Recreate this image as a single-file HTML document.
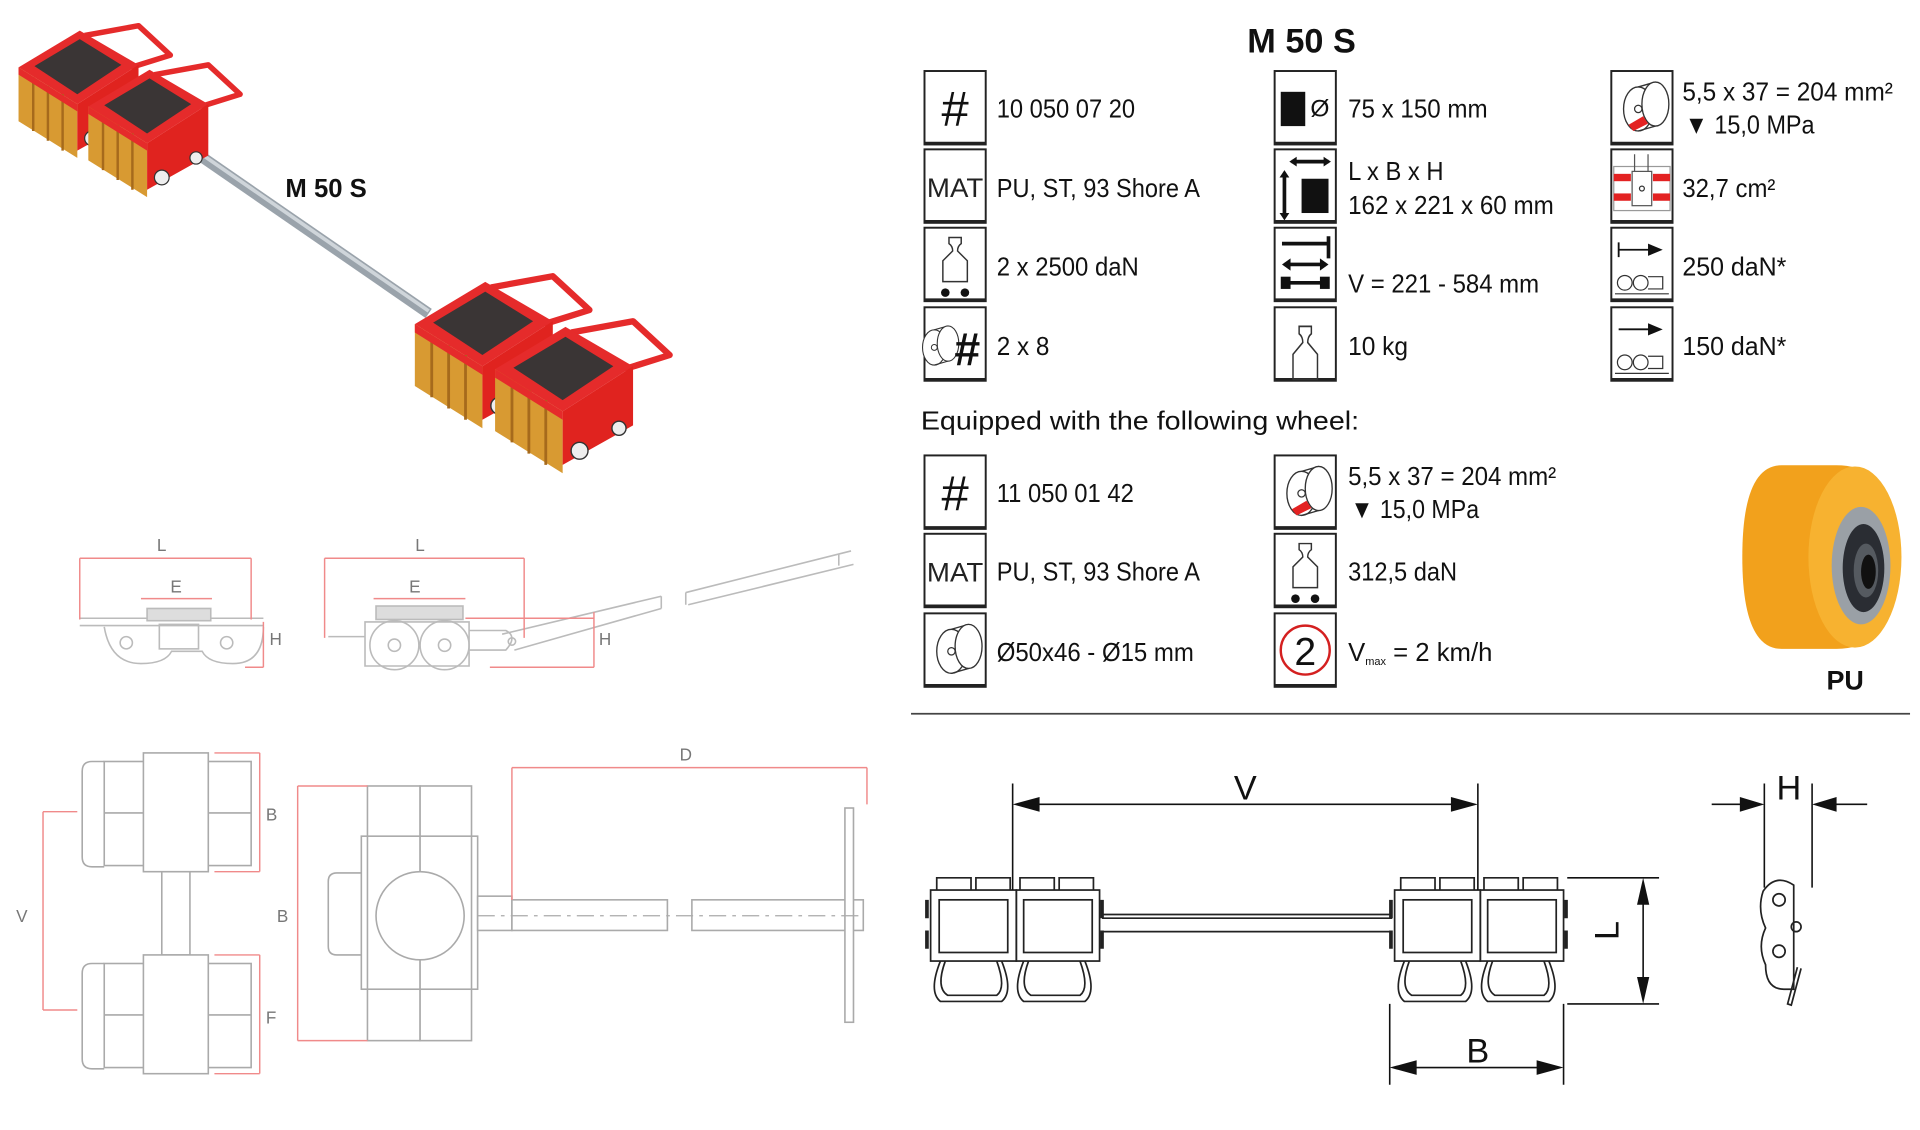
<!DOCTYPE html>
<html><head><meta charset="utf-8"><style>
html,body{margin:0;padding:0;background:#fff;}
svg{display:block;}
.t{font-family:"Liberation Sans Narrow","Liberation Sans",sans-serif;font-size:21px;fill:#111;}
.lbl{font-family:"Liberation Sans",sans-serif;font-size:14px;fill:#777;}
</style></head><body>
<svg width="1920" height="1130" viewBox="0 0 1568 923" xmlns="http://www.w3.org/2000/svg">
<defs>
<g id="box"><rect x="0" y="0" width="50" height="60" fill="#fff" stroke="#222" stroke-width="1.6"/><line x1="0" y1="59" x2="50" y2="59" stroke="#222" stroke-width="2.5"/></g>
<g id="weight"><path d="M20 8 h10 v5 q-3 2 -3 6 l8 8 v17 h-20 v-17 l8 -8 q0 -4 -3 -6z" fill="none" stroke="#333" stroke-width="1.2"/></g>
<g id="wheelic"><ellipse cx="20" cy="33" rx="12" ry="18" fill="#fff" stroke="#333" stroke-width="1.1"/><path d="M20 15 L34 11 M20 51 L34 47" stroke="#333" stroke-width="1.1"/><ellipse cx="34" cy="29" rx="11" ry="18" fill="#fff" stroke="#333" stroke-width="1.1"/><circle cx="20" cy="33" r="3" fill="none" stroke="#333"/></g>
<g id="block"><path d="M72 32 L116 24 L142 48 L110 58" fill="none" stroke="#e52b2b" stroke-width="4.5" stroke-linejoin="round"/><polygon points="18,58 68,28 116,56 66,88" fill="#e52b2b"/><polygon points="31,57 68,35 102,56 66,80" fill="#3a3535"/><polygon points="18,58 66,88 66,132 18,102" fill="#d89a32"/><path d="M30 66 v44 M42 73 v45 M54 80 v46" stroke="#a66a1c" stroke-width="2"/><polygon points="66,88 116,56 116,98 66,126" fill="#e0231f"/><polygon points="18,58 66,88 66,94 18,64" fill="#e52b2b"/><circle cx="78" cy="116" r="6" fill="#eee" stroke="#333"/><circle cx="106" cy="100" r="5" fill="#eee" stroke="#333"/></g>
<g id="pair"><use href="#block"/><use href="#block" transform="translate(57,32)"/></g>
</defs>

<!-- 3D render -->
<line x1="150" y1="118" x2="350" y2="256" stroke="#9aa3ab" stroke-width="9"/>
<line x1="150" y1="116" x2="350" y2="254" stroke="#cfd5da" stroke-width="3"/>
<use href="#pair" transform="translate(-3,-3)"/>
<use href="#pair" transform="translate(318,198) scale(1.15)"/>
<text x="233" y="161" font-family="Liberation Sans,sans-serif" font-size="21" font-weight="bold" fill="#111">M 50 S</text>

<!-- side views -->
<g fill="none" stroke="#bbb" stroke-width="1.3">
<path d="M65 505 h150 M65 511 h150"/><rect x="120" y="497" width="52" height="10" fill="#ddd"/>
<path d="M85 512 q5 30 30 30 q20 0 25 -10 h25 q5 10 25 10 q25 0 25 -30"/><rect x="130" y="510" width="32" height="20"/>
<circle cx="103" cy="525" r="5"/><circle cx="185" cy="525" r="5"/>
<rect x="307" y="495" width="71" height="11" fill="#ddd"/><circle cx="322" cy="527" r="20"/><circle cx="363" cy="527" r="20"/><circle cx="322" cy="527" r="5"/><circle cx="363" cy="527" r="5"/>
<path d="M268 520 h30 M298 508 h85 v36 h-85z M383 515 h30 q10 5 0 16 h-30"/><circle cx="418" cy="524" r="3"/>
<path d="M410 518 L540 487 M420 531 L540 497 M560 484 L695 450 M562 494 L697 461 M540 487 v10 M560 484 v10 M685 452 v10"/>
</g>
<g fill="none" stroke="#f08a8a" stroke-width="1.2">
<path d="M65 456 h140 M65 456 v50 M205 456 v50 M115 489 h58 M215 508 v37 M200 545 h15 M265 456 h163 M265 456 v65 M428 456 v65 M305 489 h75 M485 500 v45 M380 505 h105 M400 545 h85"/>
</g>
<text x="128" y="450" class="lbl">L</text><text x="139" y="484" class="lbl">E</text><text x="220" y="527" class="lbl">H</text>
<text x="339" y="450" class="lbl">L</text><text x="334" y="484" class="lbl">E</text><text x="489" y="527" class="lbl">H</text>

<!-- top views -->
<g fill="#fff" stroke="#aaa" stroke-width="1.3">
<path d="M85 622 h-10 q-8 0 -8 8 v70 q0 8 8 8 h10 M85 787 h-10 q-8 0 -8 8 v70 q0 8 8 8 h10" fill="none"/>
<rect x="85" y="622" width="120" height="85"/><rect x="85" y="787" width="120" height="85"/>
<line x1="85" y1="664" x2="205" y2="664"/><line x1="85" y1="829" x2="205" y2="829"/>
<rect x="132" y="712" width="23" height="68"/>
<rect x="117" y="615" width="53" height="97"/><rect x="117" y="780" width="53" height="97"/>
<rect x="300" y="642" width="43" height="208"/><rect x="343" y="642" width="42" height="208"/>
<path d="M295 713 h-20 q-7 0 -7 7 v53 q0 7 7 7 h20" fill="none"/>
<rect x="295" y="683" width="95" height="125" fill="none"/>
<circle cx="343" cy="748" r="36"/>
<rect x="390" y="732" width="28" height="28"/><rect x="418" y="735" width="127" height="25"/><rect x="565" y="735" width="140" height="25"/>
<rect x="690" y="660" width="7" height="175"/>
</g>
<line x1="390" y1="748" x2="705" y2="748" stroke="#aaa" stroke-dasharray="14 5 3 5"/>
<g fill="none" stroke="#f08a8a" stroke-width="1.2">
<path d="M212 615 v97 M175 615 h37 M175 712 h37 M212 780 v97 M175 780 h37 M175 877 h37 M35 663 v162 M35 663 h28 M35 825 h28 M243 642 v208 M243 642 h57 M243 850 h57 M418 627 h290 M418 627 v108 M708 627 v30"/>
</g>
<text x="217" y="670" class="lbl">B</text><text x="217" y="836" class="lbl">F</text><text x="13" y="753" class="lbl">V</text><text x="226" y="753" class="lbl">B</text><text x="555" y="621" class="lbl">D</text>

<!-- title + spec table -->
<text x="1063" y="43" text-anchor="middle" font-family="Liberation Sans,sans-serif" font-size="28" font-weight="bold" fill="#111">M 50 S</text>

<!-- col1 -->
<g transform="translate(755,58)"><use href="#box"/><text x="25" y="45" text-anchor="middle" font-family="Liberation Sans" font-size="40" fill="#111">#</text></g>
<g transform="translate(755,122)"><use href="#box"/><text x="25" y="39" text-anchor="middle" font-family="Liberation Sans Narrow,Liberation Sans" font-size="22" textLength="46" lengthAdjust="spacingAndGlyphs" fill="#222">MAT</text></g>
<g transform="translate(755,186)"><use href="#box"/><use href="#weight"/><circle cx="17" cy="53" r="3.5" fill="#111"/><circle cx="33" cy="53" r="3.5" fill="#111"/></g>
<g transform="translate(755,251)"><use href="#box"/><use href="#wheelic" transform="translate(-8,0) scale(0.8) translate(0,8)"/><text x="35" y="47" text-anchor="middle" font-family="Liberation Sans" font-size="38" font-weight="bold" fill="#111">#</text></g>
<text x="814" y="96" class="t" textLength="113" lengthAdjust="spacingAndGlyphs">10 050 07 20</text>
<text x="814" y="161" class="t" textLength="166" lengthAdjust="spacingAndGlyphs">PU, ST, 93 Shore A</text>
<text x="814" y="225" class="t" textLength="116" lengthAdjust="spacingAndGlyphs">2 x 2500 daN</text>
<text x="814" y="290" class="t" textLength="43" lengthAdjust="spacingAndGlyphs">2 x 8</text>

<!-- col2 -->
<g transform="translate(1041,58)"><use href="#box"/><rect x="5" y="17" width="20" height="28" fill="#111"/><text x="37" y="37" text-anchor="middle" font-family="Liberation Sans" font-size="20" fill="#111">Ø</text></g>
<g transform="translate(1041,122)"><use href="#box"/><rect x="22" y="24" width="22" height="28" fill="#111"/><path d="M14 10 h30 M8 20 v35" stroke="#111" stroke-width="3"/><path d="M12 10 l6 -4 v8z M46 10 l-6 -4 v8z M8 17 l-4 6 h8z M8 58 l-4 -6 h8z" fill="#111"/></g>
<g transform="translate(1041,186)"><use href="#box"/><path d="M6 13 h38 M44 7 v18 M8 30 h34" stroke="#111" stroke-width="3"/><path d="M6 30 l7 -5 v10z M44 30 l-7 -5 v10z" fill="#111"/><rect x="5" y="40" width="8" height="10" fill="#111"/><rect x="37" y="40" width="8" height="10" fill="#111"/><path d="M12 45 h26" stroke="#111" stroke-width="3"/></g>
<g transform="translate(1041,251)"><use href="#box"/><use href="#weight" transform="translate(0,6) scale(1,1.2)"/></g>
<text x="1101" y="96" class="t" textLength="114" lengthAdjust="spacingAndGlyphs">75 x 150 mm</text>
<text x="1101" y="147" class="t" textLength="78" lengthAdjust="spacingAndGlyphs">L x B x H</text>
<text x="1101" y="175" class="t" textLength="168" lengthAdjust="spacingAndGlyphs">162 x 221 x 60 mm</text>
<text x="1101" y="239" class="t" textLength="156" lengthAdjust="spacingAndGlyphs">V = 221 - 584 mm</text>
<text x="1101" y="290" class="t" textLength="49" lengthAdjust="spacingAndGlyphs">10 kg</text>

<!-- col3 -->
<g transform="translate(1316,58)"><use href="#box"/><use href="#wheelic" transform="translate(2,-2)"/><path d="M14 44 l12 -7 l4 6 l-12 6z" fill="#e32222"/></g>
<g transform="translate(1316,122)"><use href="#box"/><rect x="2" y="14" width="46" height="36" fill="#fff" stroke="#999"/><rect x="2" y="20" width="14" height="6" fill="#e32222"/><rect x="34" y="20" width="14" height="6" fill="#e32222"/><rect x="2" y="36" width="14" height="6" fill="#e32222"/><rect x="34" y="36" width="14" height="6" fill="#e32222"/><rect x="17" y="18" width="16" height="28" fill="#fff" stroke="#555"/><path d="M19 4 v14 M30 4 v14" stroke="#555"/><circle cx="25" cy="32" r="2" fill="none" stroke="#333"/></g>
<g transform="translate(1316,186)"><use href="#box"/><path d="M6 12 v12 M6 18 h26" stroke="#111" stroke-width="1.5"/><path d="M42 18 l-12 -5 v10z" fill="#111"/><circle cx="11" cy="45" r="6" fill="none" stroke="#333"/><circle cx="24" cy="45" r="6" fill="none" stroke="#333"/><path d="M30 40 h12 v10 h-12 M3 54 h44" fill="none" stroke="#333"/></g>
<g transform="translate(1316,251)"><use href="#box"/><path d="M6 18 h26" stroke="#111" stroke-width="1.5"/><path d="M42 18 l-12 -5 v10z" fill="#111"/><circle cx="11" cy="45" r="6" fill="none" stroke="#333"/><circle cx="24" cy="45" r="6" fill="none" stroke="#333"/><path d="M30 40 h12 v10 h-12 M3 54 h44" fill="none" stroke="#333"/></g>
<text x="1374" y="82" class="t" textLength="172" lengthAdjust="spacingAndGlyphs">5,5 x 37 = 204 mm²</text>
<text x="1376" y="109" class="t" textLength="106" lengthAdjust="spacingAndGlyphs">▼ 15,0 MPa</text>
<text x="1374" y="161" class="t" textLength="76" lengthAdjust="spacingAndGlyphs">32,7 cm²</text>
<text x="1374" y="225" class="t" textLength="85" lengthAdjust="spacingAndGlyphs">250 daN*</text>
<text x="1374" y="290" class="t" textLength="85" lengthAdjust="spacingAndGlyphs">150 daN*</text>

<text x="752" y="351" class="t" font-size="22" textLength="358" lengthAdjust="spacingAndGlyphs">Equipped with the following wheel:</text>

<!-- wheel rows -->
<g transform="translate(755,372)"><use href="#box"/><text x="25" y="45" text-anchor="middle" font-family="Liberation Sans" font-size="40" fill="#111">#</text></g>
<g transform="translate(755,436)"><use href="#box"/><text x="25" y="39" text-anchor="middle" font-family="Liberation Sans Narrow,Liberation Sans" font-size="22" textLength="46" lengthAdjust="spacingAndGlyphs" fill="#222">MAT</text></g>
<g transform="translate(755,501)"><use href="#box"/><use href="#wheelic" transform="translate(2,-2)"/></g>
<g transform="translate(1041,372)"><use href="#box"/><use href="#wheelic" transform="translate(2,-2)"/><path d="M14 44 l12 -7 l4 6 l-12 6z" fill="#e32222"/></g>
<g transform="translate(1041,436)"><use href="#box"/><use href="#weight"/><circle cx="17" cy="53" r="3.5" fill="#111"/><circle cx="33" cy="53" r="3.5" fill="#111"/></g>
<g transform="translate(1041,501)"><use href="#box"/><circle cx="25" cy="30" r="20" fill="none" stroke="#d42020" stroke-width="2"/><text x="25" y="42" text-anchor="middle" font-family="Liberation Sans" font-size="32" fill="#111">2</text></g>
<text x="814" y="410" class="t" textLength="112" lengthAdjust="spacingAndGlyphs">11 050 01 42</text>
<text x="814" y="474" class="t" textLength="166" lengthAdjust="spacingAndGlyphs">PU, ST, 93 Shore A</text>
<text x="814" y="540" class="t" textLength="161" lengthAdjust="spacingAndGlyphs">Ø50x46 - Ø15 mm</text>
<text x="1101" y="396" class="t" textLength="170" lengthAdjust="spacingAndGlyphs">5,5 x 37 = 204 mm²</text>
<text x="1103" y="423" class="t" textLength="105" lengthAdjust="spacingAndGlyphs">▼ 15,0 MPa</text>
<text x="1101" y="474" class="t" textLength="89" lengthAdjust="spacingAndGlyphs">312,5 daN</text>
<text x="1101" y="540" class="t">V<tspan font-size="9" dy="3">max</tspan><tspan dy="-3"> = 2 km/h</tspan></text>

<!-- PU wheel -->
<path d="M1455 380 h45 q50 0 50 75 q0 75 -50 75 h-45 q-32 0 -32 -75 q0 -75 32 -75z" fill="#f2a11c"/>
<ellipse cx="1515" cy="455" rx="38" ry="74" fill="#f7b230"/>
<ellipse cx="1520" cy="462" rx="24" ry="48" fill="#9aa0a6"/>
<ellipse cx="1522" cy="464" rx="17" ry="36" fill="#2a2d33"/>
<ellipse cx="1524" cy="466" rx="10" ry="22" fill="#555a60"/>
<ellipse cx="1526" cy="467" rx="6" ry="14" fill="#111"/>
<text x="1507" y="563" text-anchor="middle" font-family="Liberation Sans,sans-serif" font-size="22" font-weight="bold" fill="#111">PU</text>

<line x1="744" y1="583" x2="1560" y2="583" stroke="#444" stroke-width="1.5"/>

<!-- bottom right drawing -->
<g fill="none" stroke="#222" stroke-width="1.4">
<g id="mv">
<rect x="760" y="727" width="70" height="58"/><rect x="830" y="727" width="68" height="58"/>
<rect x="767" y="735" width="56" height="43"/><rect x="836" y="735" width="56" height="43"/>
<path d="M765 727 v-10 h28 v10 M797 727 v-10 h28 v10 M833 727 v-10 h28 v10 M865 727 v-10 h28 v10"/>
<path d="M768 785 q-10 25 0 33 h50 q10 -8 0 -33 M772 785 q-8 22 2 28 h40 q8 -6 0 -28"/>
<path d="M836 785 q-10 25 0 33 h50 q10 -8 0 -33 M840 785 q-8 22 2 28 h40 q8 -6 0 -28"/>
<path d="M757 735 v15 M757 760 v15 M900 735 v15 M900 760 v15" stroke-width="3"/>
</g>
<use href="#mv" transform="translate(379,0)"/>
<path d="M900 747 h237 M900 761 h237 M900 750 h237"/>
<path d="M1440 728 q-5 15 2 30 q-7 15 0 30 q0 20 15 20 h8 v-85 q-15 -10 -25 5z"/>
<circle cx="1453" cy="735" r="5"/><circle cx="1453" cy="777" r="5"/><circle cx="1467" cy="757" r="4"/>
<path d="M1468 790 l-8 30 l3 1 l8 -30"/>
</g>
<g stroke="#111" stroke-width="1.3" fill="none">
<path d="M827 640 v87 M1207 640 v87 M837 657 h360 M1280 717 h75 M1280 820 h75 M1342 727 v83 M1135 820 v66 M1277 820 v66 M1145 872 h122 M1441 640 v85 M1480 640 v85 M1398 657 h35 M1488 657 h37"/>
</g>
<g fill="#111">
<path d="M827 657 l22 -6 v12z M1207 657 l-22 -6 v12z M1342 717 l-5 22 h10z M1342 820 l-5 -22 h10z M1135 872 l22 -6 v12z M1277 872 l-22 -6 v12z M1441 657 l-20 -6 v12z M1480 657 l20 -6 v12z"/>
</g>
<g font-family="Liberation Sans Narrow,Liberation Sans,sans-serif" font-size="28" fill="#111">
<text x="1017" y="653" text-anchor="middle">V</text>
<text x="1207" y="868" text-anchor="middle">B</text>
<text x="1461" y="653" text-anchor="middle">H</text>
<text x="1330" y="768" text-anchor="middle" transform="rotate(-90 1322 768)">L</text>
</g>
</svg>
</body></html>
